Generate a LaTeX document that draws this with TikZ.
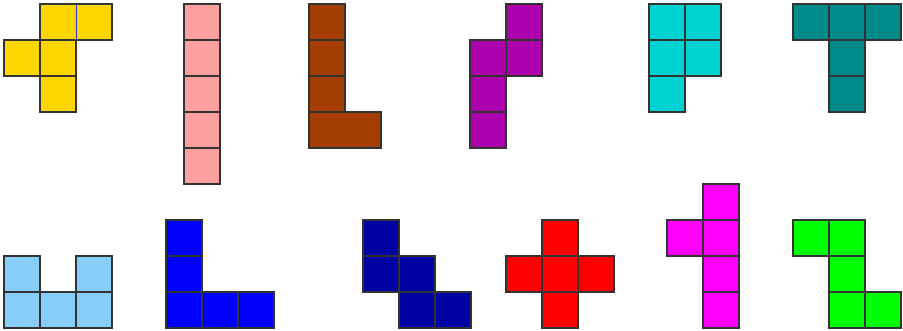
\documentclass[tikz,border=0pt]{standalone}
\usepackage{tikz}
\usetikzlibrary{calc}
\usepackage{xcolor}

\definecolor{pentoF}{HTML}{FFD700}
\definecolor{pentoI}{HTML}{FFA0A0}
\definecolor{pentoL}{HTML}{A33E00}
\definecolor{pentoN}{HTML}{AD00AD}
\definecolor{pentoP}{HTML}{00D2D2}
\definecolor{pentoT}{HTML}{008B8B}
\definecolor{pentoU}{HTML}{87CEFA}
\definecolor{pentoV}{HTML}{0000FF}
\definecolor{pentoW}{HTML}{0000A3}
\definecolor{pentoX}{HTML}{FF0000}
\definecolor{pentoY}{HTML}{FF00FF}
\definecolor{pentoZ}{HTML}{00FF00}

\begin{document}
\begin{tikzpicture}[x=1pt, y=-1pt, cell/.style={draw=black!80, line width=1.5pt, line join=miter}]
    \useasboundingbox (0,0) rectangle (903,331);

    % top row: F I L N P T
    \foreach \c/\r in {0/1,1/1,1/2}
        \draw[cell, fill=pentoF] ($(4,4)+(\c*36,\r*36)$) rectangle ++(36,36);
    \draw[cell, fill=pentoF] (40,4) rectangle ++(72,36);
    \draw[blue!60!gray, line width=0.6pt] (76,4.75) -- (76,39.25);
    \foreach \c/\r in {0/0,0/1,0/2,0/3,0/4}
        \draw[cell, fill=pentoI] ($(184,4)+(\c*36,\r*36)$) rectangle ++(36,36);
    \foreach \c/\r in {0/0,0/1,0/2}
        \draw[cell, fill=pentoL] ($(309,4)+(\c*36,\r*36)$) rectangle ++(36,36);
    \draw[cell, fill=pentoL] (309,112) rectangle ++(72,36);
    \foreach \c/\r in {1/0,0/1,1/1,0/2,0/3}
        \draw[cell, fill=pentoN] ($(470,4)+(\c*36,\r*36)$) rectangle ++(36,36);
    \foreach \c/\r in {0/0,1/0,0/1,1/1,0/2}
        \draw[cell, fill=pentoP] ($(649,4)+(\c*36,\r*36)$) rectangle ++(36,36);
    \foreach \c/\r in {0/0,1/0,2/0,1/1,1/2}
        \draw[cell, fill=pentoT] ($(793,4)+(\c*36,\r*36)$) rectangle ++(36,36);

    % bottom row: U V W X Y Z
    \foreach \c/\r in {0/0,2/0,0/1,1/1,2/1}
        \draw[cell, fill=pentoU] ($(4,256)+(\c*36,\r*36)$) rectangle ++(36,36);
    \foreach \c/\r in {0/0,0/1,0/2,1/2,2/2}
        \draw[cell, fill=pentoV] ($(166,220)+(\c*36,\r*36)$) rectangle ++(36,36);
    \foreach \c/\r in {0/0,0/1,1/1,1/2,2/2}
        \draw[cell, fill=pentoW] ($(363,220)+(\c*36,\r*36)$) rectangle ++(36,36);
    \foreach \c/\r in {1/0,0/1,1/1,2/1,1/2}
        \draw[cell, fill=pentoX] ($(506,220)+(\c*36,\r*36)$) rectangle ++(36,36);
    \foreach \c/\r in {1/0,0/1,1/1,1/2,1/3}
        \draw[cell, fill=pentoY] ($(667,184)+(\c*36,\r*36)$) rectangle ++(36,36);
    \foreach \c/\r in {0/0,1/0,1/1,1/2,2/2}
        \draw[cell, fill=pentoZ] ($(793,220)+(\c*36,\r*36)$) rectangle ++(36,36);
\end{tikzpicture}
\end{document}
